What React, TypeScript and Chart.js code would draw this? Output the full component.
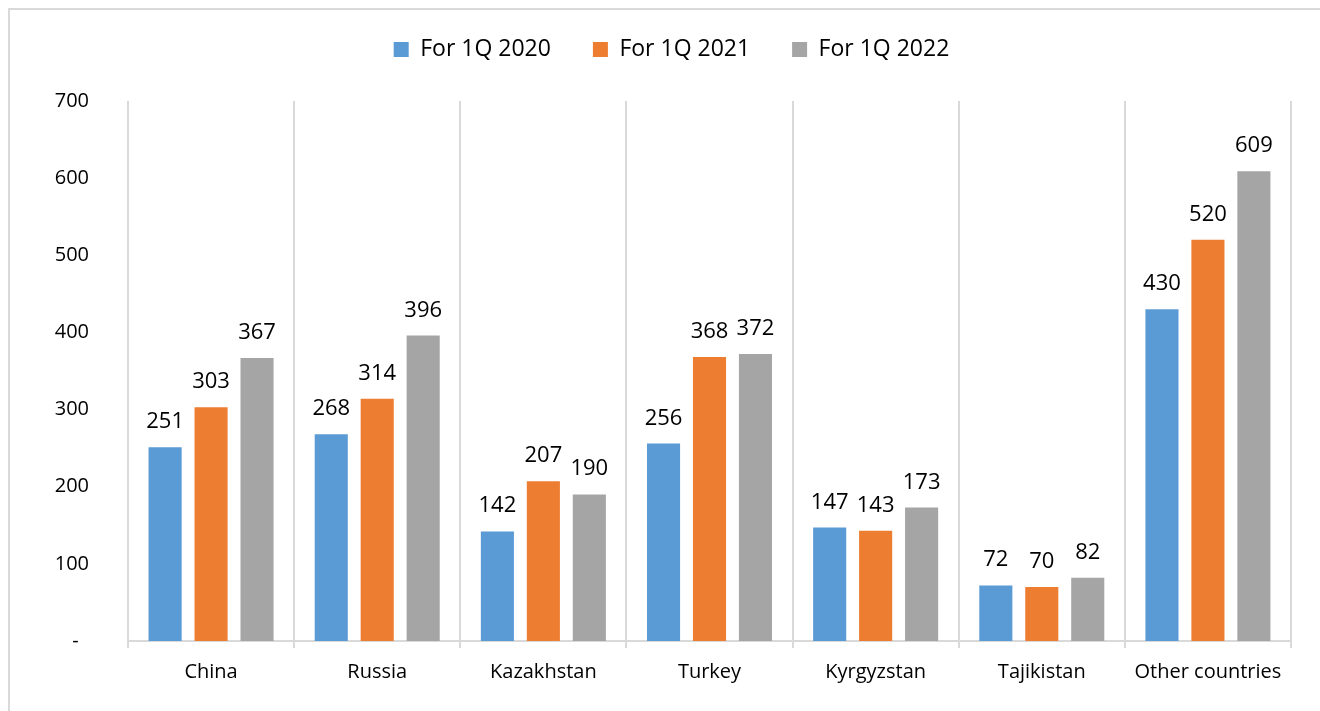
import React, { useEffect, useRef } from "react";
import { Chart, registerables } from "chart.js";

Chart.register(...registerables);

const categories = [
  "China",
  "Russia",
  "Kazakhstan",
  "Turkey",
  "Kyrgyzstan",
  "Tajikistan",
  "Other countries",
];
const seriesNames = ["For 1Q 2020", "For 1Q 2021", "For 1Q 2022"];
const values2020 = [251, 268, 142, 256, 147, 72, 430];
const values2021 = [303, 314, 207, 368, 143, 70, 520];
const values2022 = [367, 396, 190, 372, 173, 82, 609];
const seriesColors = ["#5B9BD5", "#ED7D31", "#A5A5A5"];
const yMin = 0;
const yMax = 700;
const yStep = 100;

const FONT = '"Open Sans", "Noto Sans", sans-serif';

const valueLabels = {
  id: "valueLabels",
  afterDatasetsDraw(chart: any) {
    const ctx = chart.ctx;
    ctx.save();
    ctx.font = `22px ${FONT}`;
    ctx.fillStyle = "#000";
    ctx.textAlign = "center";
    ctx.textBaseline = "alphabetic";
    chart.data.datasets.forEach((ds: any, i: number) => {
      const meta = chart.getDatasetMeta(i);
      meta.data.forEach((bar: any, j: number) => {
        ctx.fillText(String(ds.data[j]), bar.x, bar.y - 19);
      });
    });
    ctx.restore();
  },
};

export default function App() {
  const ref = useRef<HTMLCanvasElement | null>(null);

  useEffect(() => {
    if (!ref.current) return;
    const seriesValues = [values2020, values2021, values2022];
    const chart = new Chart(ref.current, {
      type: "bar",
      data: {
        labels: categories,
        datasets: seriesNames.map((name, i) => ({
          label: name,
          data: seriesValues[i],
          backgroundColor: seriesColors[i],
          borderWidth: 0,
          categoryPercentage: 0.83,
          barPercentage: 0.72,
          yAxisID: "y",
        })),
      },
      options: {
        responsive: false,
        animation: false,
        devicePixelRatio: 1,
        layout: { padding: { left: 0, right: 0, top: 0, bottom: 0 } },
        plugins: {
          legend: {
            position: "top",
            weight: 3000,
            labels: {
              boxWidth: 15,
              boxHeight: 15,
              padding: 42,
              color: "#000",
              font: { family: FONT, size: 23 },
            },
          } as any,
          title: {
            display: true,
            text: " ",
            font: { size: 10, lineHeight: 1 },
            padding: { top: 0, bottom: 20 },
          },
          tooltip: { enabled: false },
        },
        scales: {
          x: {
            offset: true,
            grid: {
              display: true,
              offset: true,
              color: "#D9D9D9",
              lineWidth: 2,
              tickLength: 7,
            },
            border: { display: true, color: "#D9D9D9", width: 2 },
            ticks: {
              color: "#000",
              font: { family: FONT, size: 20 },
              padding: 12,
              maxRotation: 0,
              autoSkip: false,
            },
            afterFit(scale: any) {
              scale.height = 70;
            },
          },
          y: {
            min: yMin,
            max: yMax,
            grid: { display: false, drawTicks: false },
            border: { display: false },
            ticks: {
              stepSize: yStep,
              color: "#000",
              font: { family: FONT, size: 20 },
              padding: 39,
              callback: (v: any) => (Number(v) === 0 ? "-  " : String(v)),
            },
            afterFit(scale: any) {
              scale.width = 128;
            },
          },
          yRight: {
            type: "linear",
            position: "right",
            min: yMin,
            max: yMax,
            grid: { display: false, drawTicks: false },
            border: { display: false },
            ticks: { display: false },
            afterFit(scale: any) {
              scale.width = 52;
            },
          },
        },
      } as any,
      plugins: [valueLabels],
    });
    return () => chart.destroy();
  }, []);

  return (
    <div
      style={{
        position: "fixed",
        left: 0,
        top: 0,
        width: 1320,
        height: 711,
        overflow: "hidden",
        background: "#fff",
      }}
    >
      <div
        style={{
          position: "absolute",
          left: 8,
          top: 8,
          width: 1330,
          height: 720,
          border: "2px solid #D9D9D9",
          boxSizing: "border-box",
        }}
      />
      <canvas
        ref={ref}
        width={1343}
        height={715}
        style={{ position: "absolute", left: 0, top: -4, width: 1343, height: 715 }}
      />
    </div>
  );
}
